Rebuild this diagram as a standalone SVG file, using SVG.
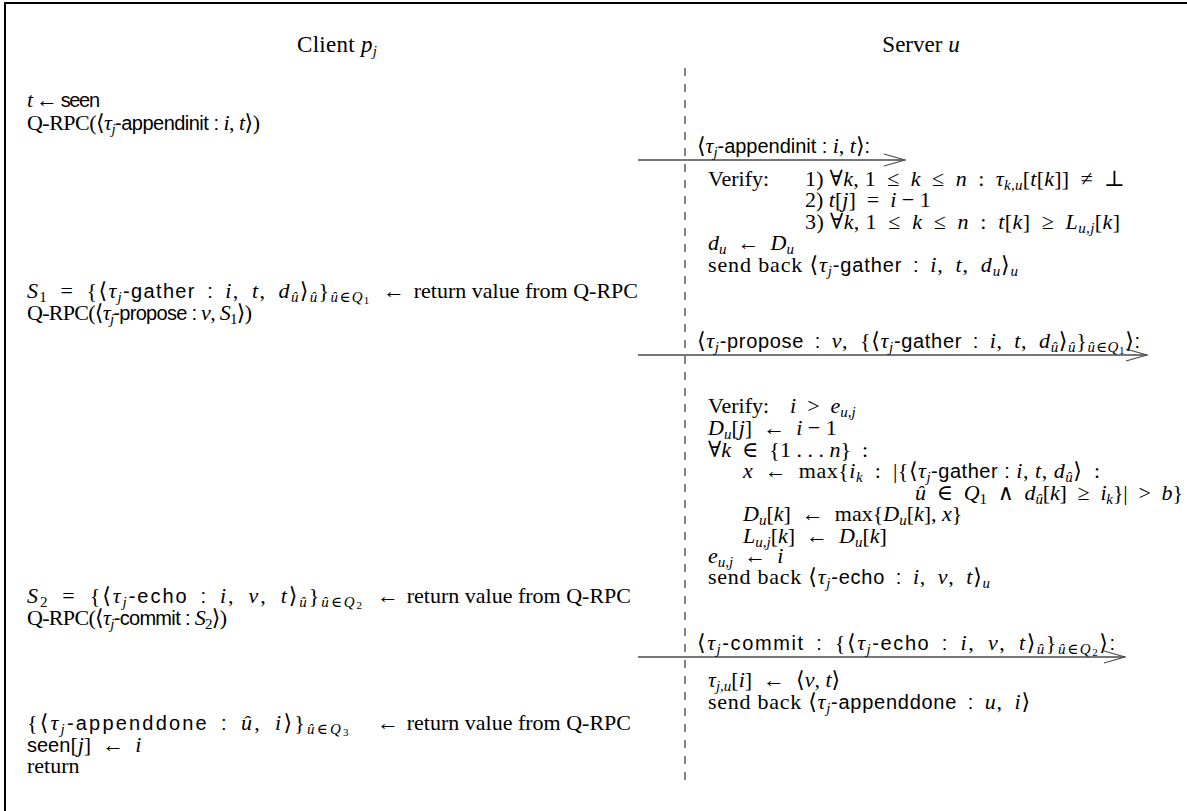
<svg xmlns="http://www.w3.org/2000/svg" width="1187" height="811" viewBox="0 0 1187 811">
<defs>
<style>
text{font-family:"Liberation Serif","DejaVu Serif",serif;font-size:22px;fill:#000}
.i{font-style:italic}
.s{font-family:"Liberation Sans","DejaVu Sans",sans-serif;font-size:20px}
.b{font-style:italic;font-size:15px}
.n{font-size:15px}
.m{font-size:11px}
.h{font-size:23px}
.conn line{stroke:#4a4a4a;stroke-width:1.5;marker-end:url(#ah)}
.life{stroke:#333;stroke-width:1.2;stroke-dasharray:8 8}
</style>
<marker id="ah" markerUnits="userSpaceOnUse" markerWidth="24" markerHeight="14" refX="22" refY="7" orient="auto">
<path d="M1,1 L22,7 L1,13" fill="none" stroke="#4a4a4a" stroke-width="1.3"/>
</marker>
</defs>
<rect width="1187" height="811" fill="#fff"/>
<path d="M5,811 V3 H1187" fill="none" stroke="#000" stroke-width="2"/>
<line class="life" x1="685" y1="68" x2="685" y2="783"/>

<g id="client-header"><text class="h" x="297" y="52" textLength="80" lengthAdjust="spacing">Client <tspan class="i">p</tspan><tspan class="b" dy="4">j</tspan></text></g>
<g id="server-header"><text class="h" x="921" y="52" text-anchor="middle">Server <tspan class="i">u</tspan></text></g>

<g id="client-step1">
<text x="27" y="107" textLength="73" lengthAdjust="spacing"><tspan class="i">t</tspan> ← <tspan class="s">seen</tspan></text>
<text x="27" y="130" textLength="233" lengthAdjust="spacing">Q-RPC(⟨<tspan class="i">τ</tspan><tspan class="b" dy="4">j</tspan><tspan class="s" dy="-4">-appendinit : </tspan><tspan class="i">i</tspan>, <tspan class="i">t</tspan>⟩)</text>
</g>

<g id="client-step2">
<text x="27" y="298" textLength="378" lengthAdjust="spacing"><tspan class="i">S</tspan><tspan class="n" dy="4">1</tspan><tspan dy="-4">&#8194;=&#8194;{⟨</tspan><tspan class="i">τ</tspan><tspan class="b" dy="4">j</tspan><tspan class="s" dy="-4">-gather&#8194;:&#8194;</tspan><tspan class="i">i</tspan>,&#8194;<tspan class="i">t</tspan>,&#8194;<tspan class="i">d</tspan><tspan class="b" dy="4">û</tspan><tspan dy="-4">⟩</tspan><tspan class="b" dy="4">û</tspan><tspan dy="-4">}</tspan><tspan class="b" dy="4">û</tspan><tspan class="n">∈</tspan><tspan class="b">Q</tspan><tspan class="m" dy="2">1</tspan><tspan dy="-6">&#8194;←</tspan></text>
<text x="638" y="298" text-anchor="end">return value from Q-RPC</text>
<text x="27" y="320" textLength="225" lengthAdjust="spacing">Q-RPC(⟨<tspan class="i">τ</tspan><tspan class="b" dy="4">j</tspan><tspan class="s" dy="-4">-propose : </tspan><tspan class="i">v</tspan>, <tspan class="i">S</tspan><tspan class="n" dy="4">1</tspan><tspan dy="-4">⟩)</tspan></text>
</g>

<g id="client-step3">
<text x="27" y="603" textLength="372" lengthAdjust="spacing"><tspan class="i">S</tspan><tspan class="n" dy="4">2</tspan><tspan dy="-4">&#8194;=&#8194;{⟨</tspan><tspan class="i">τ</tspan><tspan class="b" dy="4">j</tspan><tspan class="s" dy="-4">-echo&#8194;:&#8194;</tspan><tspan class="i">i</tspan>,&#8194;<tspan class="i">v</tspan>,&#8194;<tspan class="i">t</tspan>⟩<tspan class="b" dy="4">û</tspan><tspan dy="-4">}</tspan><tspan class="b" dy="4">û</tspan><tspan class="n">∈</tspan><tspan class="b">Q</tspan><tspan class="m" dy="2">2</tspan><tspan dy="-6">&#8194;←</tspan></text>
<text x="631" y="603" text-anchor="end">return value from Q-RPC</text>
<text x="27" y="625" textLength="200" lengthAdjust="spacing">Q-RPC(⟨<tspan class="i">τ</tspan><tspan class="b" dy="4">j</tspan><tspan class="s" dy="-4">-commit : </tspan><tspan class="i">S</tspan><tspan class="n" dy="4">2</tspan><tspan dy="-4">⟩)</tspan></text>
</g>

<g id="client-step4">
<text x="27" y="730" textLength="372" lengthAdjust="spacing">{⟨<tspan class="i">τ</tspan><tspan class="b" dy="4">j</tspan><tspan class="s" dy="-4">-appenddone&#8194;:&#8194;</tspan><tspan class="i">û</tspan>,&#8194;<tspan class="i">i</tspan>⟩}<tspan class="b" dy="4">û</tspan><tspan class="n">∈</tspan><tspan class="b">Q</tspan><tspan class="m" dy="2">3</tspan><tspan dy="-6">&#8194;&#8194;←</tspan></text>
<text x="631" y="730" text-anchor="end">return value from Q-RPC</text>
<text x="27" y="752"><tspan class="s">seen</tspan>[<tspan class="i">j</tspan>]&#8194;←&#8194;<tspan class="i">i</tspan></text>
<text x="27" y="773">return</text>
</g>

<g id="server-appendinit">
<text x="708" y="186">Verify:</text>
<text x="805" y="186" textLength="320" lengthAdjust="spacing">1) ∀<tspan class="i">k</tspan>, 1&#8194;≤&#8194;<tspan class="i">k</tspan>&#8194;≤&#8194;<tspan class="i">n</tspan>&#8194;:&#8194;<tspan class="i">τ</tspan><tspan class="b" dy="4">k,u</tspan><tspan dy="-4">[</tspan><tspan class="i">t</tspan>[<tspan class="i">k</tspan>]]&#8194;≠&#8194;⊥</text>
<text x="805" y="207">2) <tspan class="i">t</tspan>[<tspan class="i">j</tspan>]&#8194;=&#8194;<tspan class="i">i</tspan> − 1</text>
<text x="805" y="229" textLength="315" lengthAdjust="spacing">3) ∀<tspan class="i">k</tspan>, 1&#8194;≤&#8194;<tspan class="i">k</tspan>&#8194;≤&#8194;<tspan class="i">n</tspan>&#8194;:&#8194;<tspan class="i">t</tspan>[<tspan class="i">k</tspan>]&#8194;≥&#8194;<tspan class="i">L</tspan><tspan class="b" dy="4">u,j</tspan><tspan dy="-4">[</tspan><tspan class="i">k</tspan>]</text>
<text x="708" y="250"><tspan class="i">d</tspan><tspan class="b" dy="4">u</tspan><tspan dy="-4">&#8194;←&#8194;</tspan><tspan class="i">D</tspan><tspan class="b" dy="4">u</tspan></text>
<text x="708" y="272" textLength="310" lengthAdjust="spacing">send back ⟨<tspan class="i">τ</tspan><tspan class="b" dy="4">j</tspan><tspan class="s" dy="-4">-gather&#8194;:&#8194;</tspan><tspan class="i">i</tspan>,&#8194;<tspan class="i">t</tspan>,&#8194;<tspan class="i">d</tspan><tspan class="b" dy="4">u</tspan><tspan dy="-4">⟩</tspan><tspan class="b" dy="4">u</tspan></text>
</g>

<g id="server-propose">
<text x="708" y="413">Verify:</text>
<text x="790" y="413"><tspan class="i">i</tspan>&#8194;&gt;&#8194;<tspan class="i">e</tspan><tspan class="b" dy="4">u,j</tspan></text>
<text x="708" y="435"><tspan class="i">D</tspan><tspan class="b" dy="4">u</tspan><tspan dy="-4">[</tspan><tspan class="i">j</tspan>]&#8194;←&#8194;<tspan class="i">i</tspan> − 1</text>
<text x="708" y="457">∀<tspan class="i">k</tspan>&#8194;∈&#8194;{1 . . . <tspan class="i">n</tspan>}&#8194;:</text>
<text x="743" y="478" textLength="357" lengthAdjust="spacing"><tspan class="i">x</tspan>&#8194;←&#8194;max{<tspan class="i">i</tspan><tspan class="b" dy="4">k</tspan><tspan dy="-4">&#8194;:&#8194;|{⟨</tspan><tspan class="i">τ</tspan><tspan class="b" dy="4">j</tspan><tspan class="s" dy="-4">-gather : </tspan><tspan class="i">i</tspan>, <tspan class="i">t</tspan>, <tspan class="i">d</tspan><tspan class="b" dy="4">û</tspan><tspan dy="-4">⟩&#8194;:</tspan></text>
<text x="915" y="500" textLength="268" lengthAdjust="spacing"><tspan class="i">û</tspan>&#8194;∈&#8194;<tspan class="i">Q</tspan><tspan class="n" dy="4">1</tspan><tspan dy="-4">&#8194;∧&#8194;</tspan><tspan class="i">d</tspan><tspan class="b" dy="4">û</tspan><tspan dy="-4">[</tspan><tspan class="i">k</tspan>]&#8194;≥&#8194;<tspan class="i">i</tspan><tspan class="b" dy="4">k</tspan><tspan dy="-4">}|&#8194;&gt;&#8194;</tspan><tspan class="i">b</tspan>}</text>
<text x="743" y="521"><tspan class="i">D</tspan><tspan class="b" dy="4">u</tspan><tspan dy="-4">[</tspan><tspan class="i">k</tspan>]&#8194;←&#8194;max{<tspan class="i">D</tspan><tspan class="b" dy="4">u</tspan><tspan dy="-4">[</tspan><tspan class="i">k</tspan>], <tspan class="i">x</tspan>}</text>
<text x="743" y="543"><tspan class="i">L</tspan><tspan class="b" dy="4">u,j</tspan><tspan dy="-4">[</tspan><tspan class="i">k</tspan>]&#8194;←&#8194;<tspan class="i">D</tspan><tspan class="b" dy="4">u</tspan><tspan dy="-4">[</tspan><tspan class="i">k</tspan>]</text>
<text x="708" y="563"><tspan class="i">e</tspan><tspan class="b" dy="4">u,j</tspan><tspan dy="-4">&#8194;←&#8194;</tspan><tspan class="i">i</tspan></text>
<text x="708" y="584" textLength="282" lengthAdjust="spacing">send back ⟨<tspan class="i">τ</tspan><tspan class="b" dy="4">j</tspan><tspan class="s" dy="-4">-echo&#8194;:&#8194;</tspan><tspan class="i">i</tspan>,&#8194;<tspan class="i">v</tspan>,&#8194;<tspan class="i">t</tspan>⟩<tspan class="b" dy="4">u</tspan></text>
</g>

<g id="server-commit">
<text x="708" y="687"><tspan class="i">τ</tspan><tspan class="b" dy="4">j,u</tspan><tspan dy="-4">[</tspan><tspan class="i">i</tspan>]&#8194;←&#8194;⟨<tspan class="i">v</tspan>, <tspan class="i">t</tspan>⟩</text>
<text x="708" y="709" textLength="322" lengthAdjust="spacing">send back ⟨<tspan class="i">τ</tspan><tspan class="b" dy="4">j</tspan><tspan class="s" dy="-4">-appenddone&#8194;:&#8194;</tspan><tspan class="i">u</tspan>,&#8194;<tspan class="i">i</tspan>⟩</text>
</g>

<g id="connectors" class="conn">
<line x1="638" y1="160" x2="905" y2="160"/>
<line x1="638" y1="355" x2="1147" y2="355"/>
<line x1="638" y1="657" x2="1125" y2="657"/>
</g>
<g id="connector-labels">
<text x="697" y="153" textLength="173" lengthAdjust="spacing">⟨<tspan class="i">τ</tspan><tspan class="b" dy="4">j</tspan><tspan class="s" dy="-4">-appendinit : </tspan><tspan class="i">i</tspan>, <tspan class="i">t</tspan>⟩<tspan class="s">:</tspan></text>
<text x="697" y="348" textLength="443" lengthAdjust="spacing">⟨<tspan class="i">τ</tspan><tspan class="b" dy="4">j</tspan><tspan class="s" dy="-4">-propose&#8194;:&#8194;</tspan><tspan class="i">v</tspan>,&#8194;{⟨<tspan class="i">τ</tspan><tspan class="b" dy="4">j</tspan><tspan class="s" dy="-4">-gather&#8194;:&#8194;</tspan><tspan class="i">i</tspan>,&#8194;<tspan class="i">t</tspan>,&#8194;<tspan class="i">d</tspan><tspan class="b" dy="4">û</tspan><tspan dy="-4">⟩</tspan><tspan class="b" dy="4">û</tspan><tspan dy="-4">}</tspan><tspan class="b" dy="4">û</tspan><tspan class="n">∈</tspan><tspan class="b">Q</tspan><tspan class="m" dy="2">1</tspan><tspan dy="-6">⟩</tspan><tspan class="s">:</tspan></text>
<text x="697" y="650" textLength="418" lengthAdjust="spacing">⟨<tspan class="i">τ</tspan><tspan class="b" dy="4">j</tspan><tspan class="s" dy="-4">-commit&#8194;:&#8194;</tspan>{⟨<tspan class="i">τ</tspan><tspan class="b" dy="4">j</tspan><tspan class="s" dy="-4">-echo&#8194;:&#8194;</tspan><tspan class="i">i</tspan>,&#8194;<tspan class="i">v</tspan>,&#8194;<tspan class="i">t</tspan>⟩<tspan class="b" dy="4">û</tspan><tspan dy="-4">}</tspan><tspan class="b" dy="4">û</tspan><tspan class="n">∈</tspan><tspan class="b">Q</tspan><tspan class="m" dy="2">2</tspan><tspan dy="-6">⟩</tspan><tspan class="s">:</tspan></text>
</g>
</svg>
